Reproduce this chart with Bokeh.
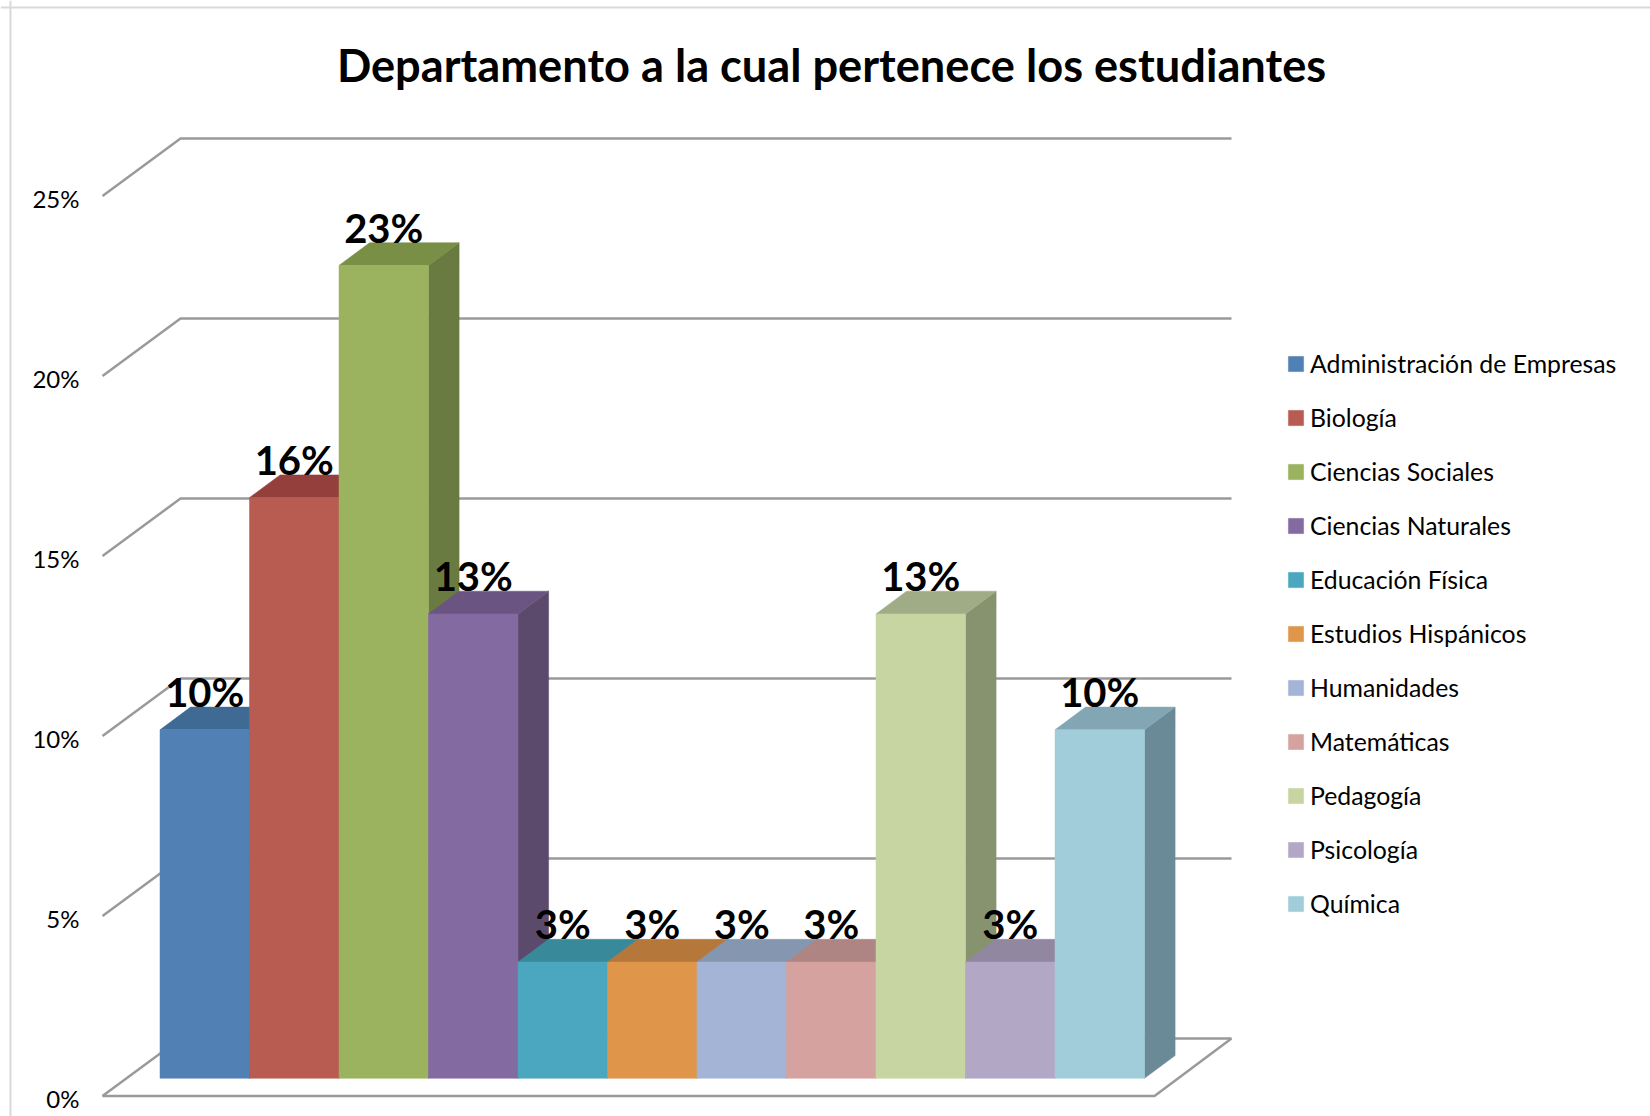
from bokeh.embed import file_html
from bokeh.resources import INLINE
from bokeh.plotting import figure
from bokeh.models import Range1d, LinearAxis, FixedTicker, Legend, LegendItem, Span, PrintfTickFormatter
from bokeh.core.properties import value

title_text = "Departamento a la cual pertenece los estudiantes"
categories = ["Administración de Empresas", "Biología", "Ciencias Sociales", "Ciencias Naturales",
              "Educación Física", "Estudios Hispánicos", "Humanidades", "Matemáticas",
              "Pedagogía", "Psicología", "Química"]
values = [9.68, 16.13, 22.58, 12.90, 3.23, 3.23, 3.23, 3.23, 12.90, 3.23, 9.68]
labels = ["10%", "16%", "23%", "13%", "3%", "3%", "3%", "3%", "13%", "3%", "10%"]
y_ticks = [0, 5, 10, 15, 20, 25]

front_colors = ["#5181B4", "#B85B51", "#9BB25E", "#836AA0", "#4BA7BF", "#DF954A",
                "#A3B4D6", "#D6A2A0", "#C6D5A2", "#B2A8C6", "#A1CDDA"]
top_colors = ["#3E6A94", "#953F3D", "#7A8F46", "#6A5481", "#388A9B", "#B5773A",
              "#8596B0", "#AE8583", "#A0AC85", "#9187A1", "#82A6B4"]
side_colors = ["#35597D", "#7C3633", "#6A7B42", "#5B4A6C", "#2F7585", "#9A6632",
               "#717F96", "#94716F", "#87936F", "#7B7289", "#6B8A98"]

W, H = 1650, 1116
X0, BAR_W = 159.5, 89.5      # px of the first bar's left edge, px per category
Y0, PX_PCT = 1077.8, 36.0    # px of the bars' baseline, px per percent


def dx(px):
    return (px - X0) / BAR_W


def dy(py):
    return (Y0 - py) / PX_PCT


DEPTH_X = 30.6 / BAR_W
DEPTH_Y = 22.7 / PX_PCT
FONT = "Lato"
GRID = "#9A9A9A"

p = figure(width=W, height=H, output_backend="svg", toolbar_location=None,
           x_range=Range1d(dx(0), dx(W)),
           y_range=Range1d(dy(H), dy(0)),
           min_border=0, outline_line_color=None, x_axis_type=None, y_axis_type=None,
           background_fill_color="white", border_fill_color="white")
p.grid.visible = False

# chart-area frame
p.add_layout(Span(location=10, dimension="height", location_units="canvas", line_color="#D9D9D9", line_width=2))
p.add_layout(Span(location=7, dimension="width", location_units="canvas", line_color="#D9D9D9", line_width=2))

# walls and floor
front_l, back_l, back_r, front_r = dx(102), dx(180), dx(1231), dx(1154)
front_off, back_off = dy(1095.5), dy(1038)
for t in y_ticks:
    p.line([front_l, back_l, back_r], [t + front_off, t + back_off, t + back_off],
           line_color=GRID, line_width=2.5)
p.line([back_r, front_r, front_l], [back_off, front_off, front_off], line_color=GRID, line_width=2.5)

# bars
legend_items = []
for i, (name, v) in enumerate(zip(categories, values)):
    p.patch([i + 1, i + 1 + DEPTH_X, i + 1 + DEPTH_X, i + 1], [0, DEPTH_Y, v + DEPTH_Y, v],
            fill_color=side_colors[i], line_color=side_colors[i], line_width=0.5)
    p.patch([i, i + DEPTH_X, i + 1 + DEPTH_X, i + 1], [v, v + DEPTH_Y, v + DEPTH_Y, v],
            fill_color=top_colors[i], line_color=top_colors[i], line_width=0.5)
    r = p.vbar(x=[i + 0.5], top=[v], bottom=0, width=1,
               fill_color=front_colors[i], line_color=front_colors[i], line_width=0.5)
    legend_items.append(LegendItem(label=name, renderers=[r]))

# data labels
p.text(x=[i + 0.5 for i in range(len(values))], y=[v + DEPTH_Y for v in values], text=labels,
       text_font=value(FONT), text_font_style="bold", text_font_size="40px", text_color="black",
       text_align="center", text_baseline="middle", y_offset=-15)

# title
p.text(x=[dx(831)], y=[dy(64)], text=[title_text], text_font=value(FONT), text_font_style="bold",
       text_font_size="45.2px", text_color="black", text_align="center", text_baseline="middle")

# y axis labels sit a little below the front edge of each grid line
p.extra_y_ranges["labels"] = Range1d((1097.5 - H) / PX_PCT, 1097.5 / PX_PCT)
yax = LinearAxis(y_range_name="labels", ticker=FixedTicker(ticks=y_ticks),
                 formatter=PrintfTickFormatter(format="%d%%"),
                 major_tick_line_color=None, minor_tick_line_color=None, axis_line_color=None,
                 major_label_text_font=FONT, major_label_text_font_size="24px",
                 major_label_text_color="#000000", major_label_standoff=0)
yax.fixed_location = dx(85)
p.add_layout(yax, "left")

legend = Legend(items=legend_items, location=(1286, 198), orientation="vertical",
                glyph_width=19, glyph_height=19, label_standoff=5, padding=0, margin=0,
                spacing=25, label_height=27,
                label_text_font=FONT, label_text_font_size="24.8px", label_text_color="#000000",
                border_line_color=None, background_fill_alpha=0)
p.add_layout(legend)

open("out.html", "w").write(file_html(p, INLINE))
